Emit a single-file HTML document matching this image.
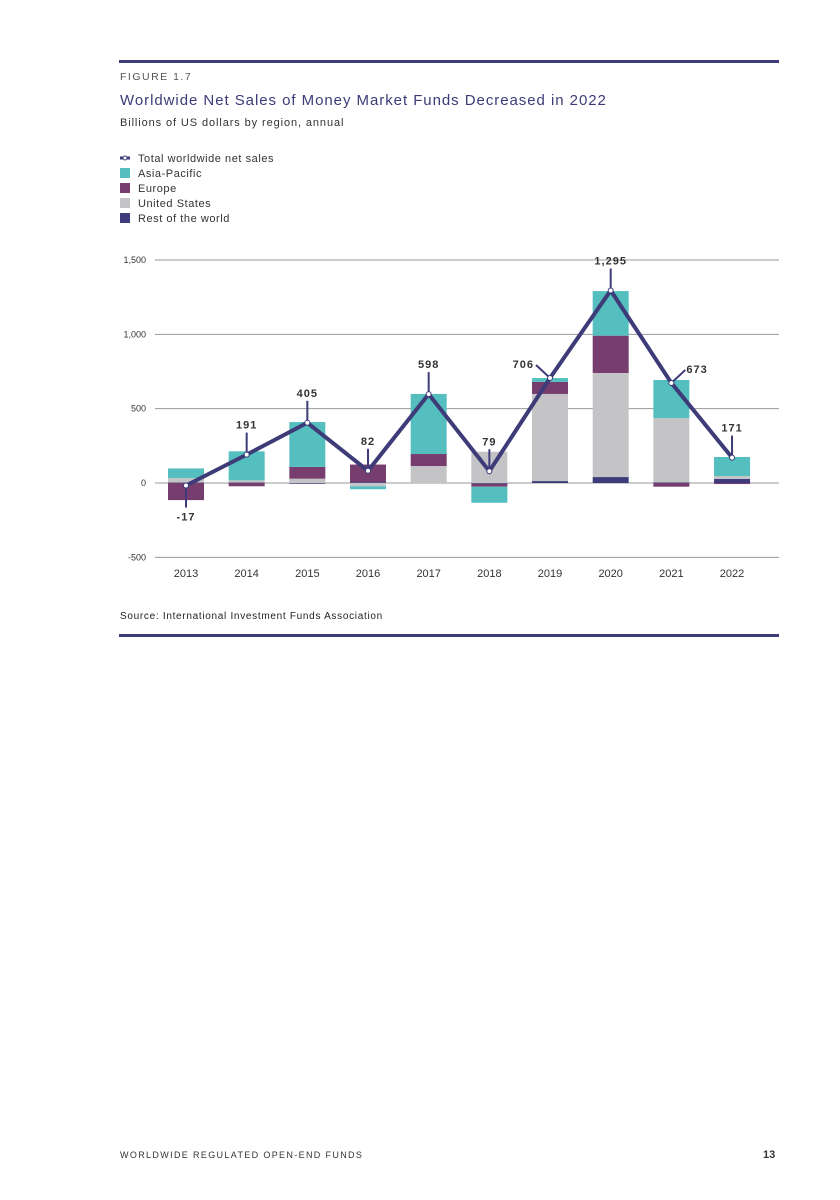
<!DOCTYPE html>
<html><head><meta charset="utf-8"><style>
body{margin:0;background:#fff;font-family:"Liberation Sans",sans-serif;}
#page{position:relative;width:840px;height:1200px;overflow:hidden;}
.rule{position:absolute;left:119px;width:660px;height:3px;background:#3d3b78;}
.t{position:absolute;white-space:nowrap;}
</style></head><body>
<div id="page">
<div class="rule" style="top:60px"></div>
<div class="t" style="left:120px;top:71px;font-size:10.5px;letter-spacing:1.5px;color:#555">FIGURE 1.7</div>
<div class="t" style="left:120px;top:92px;font-size:15px;letter-spacing:0.95px;color:#3d3b78">Worldwide Net Sales of Money Market Funds Decreased in 2022</div>
<div class="t" style="left:120px;top:117px;font-size:11px;letter-spacing:0.9px;color:#333">Billions of US dollars by region, annual</div>
<svg width="840" height="640" style="position:absolute;left:0;top:0" id="chart"></svg>
<div class="t" style="left:120px;top:611px;font-size:10px;letter-spacing:0.7px;color:#222">Source: International Investment Funds Association</div>
<div class="rule" style="top:634px"></div>
<div class="t" style="left:120px;top:1150px;font-size:9px;letter-spacing:1.35px;color:#333">WORLDWIDE REGULATED OPEN-END FUNDS</div>
<div class="t" style="left:763px;top:1149px;font-size:11px;font-weight:bold;color:#333">13</div>
</div>
<script>
const years=["2013","2014","2015","2016","2017","2018","2019","2020","2021","2022"];
const rest=[3,3,-5,6,0,-5,13,40,4,27];
const us=[30,15,29,-22,114,210,586,700,433,20];
const europe=[-115,-22,79,118,81,-20,81,251,-25,-7];
const asia=[65,195,302,-20,404,-108,26,300,256,128];
const totals=[-17,191,405,82,598,79,706,1295,673,171];
const yTicks=[-500,0,500,1000,1500];
const yTickLabels=["-500","0","500","1,000","1,500"];
const NS="http://www.w3.org/2000/svg";
const svg=document.getElementById('chart');
function y(v){return 483-v*223/1500;}
function x(i){return 186+i*60.67;}
function mk(tag,attrs,parent){const e=document.createElementNS(NS,tag);for(const k in attrs)e.setAttribute(k,attrs[k]);(parent||svg).appendChild(e);return e;}
const legend=[["Total worldwide net sales",null],["Asia-Pacific","#55bfbf"],["Europe","#773d6e"],["United States","#c4c4c6"],["Rest of the world","#3d3b7a"]];
legend.forEach((l,i)=>{const cy=158+i*15;
 if(l[1]){const r=mk('rect',{x:120,y:cy-5,width:10,height:10,fill:l[1]});
 
 }
 else{mk('path',{d:`M120 ${cy} L130 ${cy}`,stroke:'#3d3b7a','stroke-width':3});mk('circle',{cx:125,cy:cy,r:2,fill:'#fff',stroke:'#3d3b7a','stroke-width':1});}
 const t=mk('text',{x:138,y:cy+4,'font-size':11,'letter-spacing':0.55,fill:'#333'});t.textContent=l[0];
 
 
});
yTicks.forEach((v,i)=>{mk('line',{x1:155,x2:779,y1:y(v),y2:y(v),stroke:'#999','stroke-width':1});
 const t=mk('text',{x:146,y:y(v)+3,'font-size':9,fill:'#333','text-anchor':'end'});t.textContent=yTickLabels[i];
 
 });
const series=[[rest,'#3d3b7a'],[us,'#c4c4c6'],[europe,'#773d6e'],[asia,'#55bfbf']];
years.forEach((yr,i)=>{let pos=0,neg=0;
 series.forEach(s=>{const v=s[0][i];let a,b;
  if(v>=0){a=pos;b=pos+v;pos=b;}else{a=neg;b=neg+v;neg=b;}
  const r=mk('rect',{x:x(i)-18,y:Math.min(y(a),y(b)),width:36,height:Math.abs(y(a)-y(b)),fill:s[1]});
  
  });
 const t=mk('text',{x:x(i),y:577,'font-size':11,fill:'#333','text-anchor':'middle'});t.textContent=yr;
 
 
});
const pts=totals.map((v,i)=>x(i)+','+y(v)).join(' ');
const pl=mk('polyline',{points:pts,fill:'none',stroke:'#3d3b78','stroke-width':4,'stroke-linejoin':'miter'});


totals.forEach((v,i)=>{const px=x(i),py=y(v);let tx,ty,anc='middle';
 const lab=v.toLocaleString('en-US');
 if(i==0){mk('line',{x1:px,y1:py,x2:px,y2:py+22,stroke:'#3d3b78','stroke-width':2});tx=px;ty=py+35;}
 else if(i==6){mk('line',{x1:px,y1:py,x2:px-14,y2:py-13,stroke:'#3d3b78','stroke-width':2});tx=px-16;ty=py-10;anc='end';}
 else if(i==8){mk('line',{x1:px,y1:py,x2:px+14,y2:py-13,stroke:'#3d3b78','stroke-width':2});tx=px+15;ty=py-10;anc='start';}
 else{mk('line',{x1:px,y1:py,x2:px,y2:py-22,stroke:'#3d3b78','stroke-width':2});tx=px;ty=py-26;}
 const c=mk('circle',{cx:px,cy:py,r:2.5,fill:'#fff',stroke:'#3d3b78','stroke-width':1});
 
 
 const t=mk('text',{x:tx,y:ty,'font-size':11,'font-weight':'bold','letter-spacing':1,fill:'#333','text-anchor':anc});t.textContent=lab;
 
 
});
</script>
</body></html>
